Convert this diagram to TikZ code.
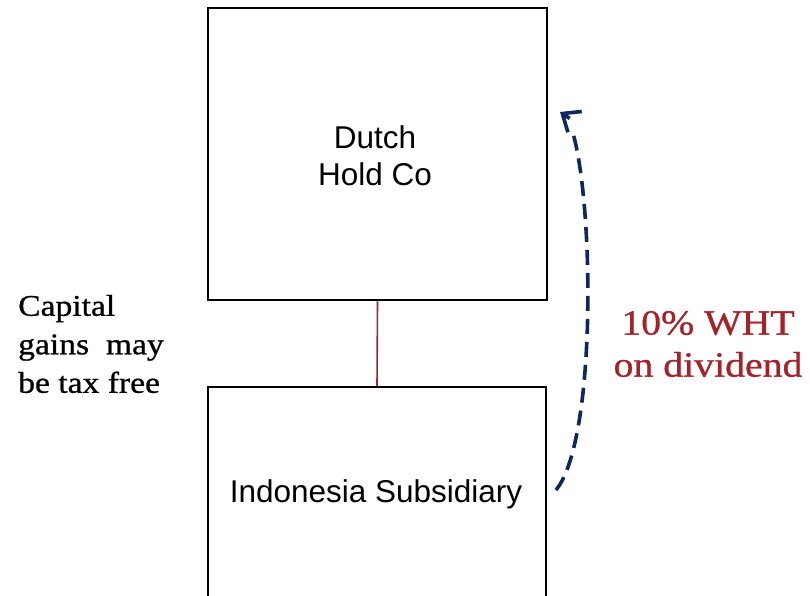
\documentclass[tikz,border=0pt]{standalone}
\usepackage{fontspec}
\setmainfont{Liberation Serif}[FakeStretch=1.12, FakeBold=0.8]
\setsansfont{Liberation Sans}
\usetikzlibrary{arrows.meta}
\definecolor{wineRed}{RGB}{165,35,40}
\definecolor{navyDash}{RGB}{12,40,95}
\tikzset{
  entity/.style={draw=black, line width=2.5pt, inner sep=0pt, fill=white},
  boxlabel/.style={font=\sffamily\fontsize{31.5}{37}\selectfont, align=center, inner sep=0pt},
  notetext/.style={font=\fontsize{30}{38.5}\selectfont, align=left, inner sep=0pt},
  whtnote/.style={font=\fontsize{35.5}{42}\selectfont, align=center, inner sep=0pt, text=wineRed},
  ownership/.style={draw=wineRed, line width=1.6pt},
  dividend/.style={draw=navyDash, line width=3.6pt, dash pattern=on 15pt off 8pt},
  dividendtip/.style={draw=navyDash, line width=3.6pt, shorten <=10pt,
    -{Straight Barb[length=15pt, width=25pt, line width=3.6pt]}}
}
\begin{document}
\begin{tikzpicture}[x=1pt, y=-1pt]
  \clip (0,0) rectangle (810,596);
  \fill[white] (0,0) rectangle (810,596);

  % parent and subsidiary
  \node[entity, minimum width=339pt, minimum height=292pt] (hold) at (377.5,154) {};
  \node[entity, minimum width=338pt, minimum height=300pt] (sub) at (377,537) {};
  \node[boxlabel] (holdtxt) at (375,156) {Dutch\\Hold Co};
  \node[boxlabel] (subtxt) at (376,494) {Indonesia Subsidiary};

  % shareholding link
  \draw[ownership] (hold.south) -- (sub.north);

  % notes
  \node[notetext, anchor=west] (cgt) at (18,344) {Capital\\gains\ \ may\\be tax free};
  \node[whtnote] (wht) at (708,344) {10\% WHT\\on dividend};

  % dividend flow: dashed curve, open barb at its upper end
  \coordinate (divstart) at (556,490);
  \coordinate (divbend) at (572,130);
  \coordinate (divpre) at (578,124);
  \coordinate (divend) at (560,112);
  \draw[dividend] (divstart) .. controls (597,440) and (594,200) .. (divbend);
  \draw[dividendtip] (divpre) -- (divend);
\end{tikzpicture}
\end{document}
